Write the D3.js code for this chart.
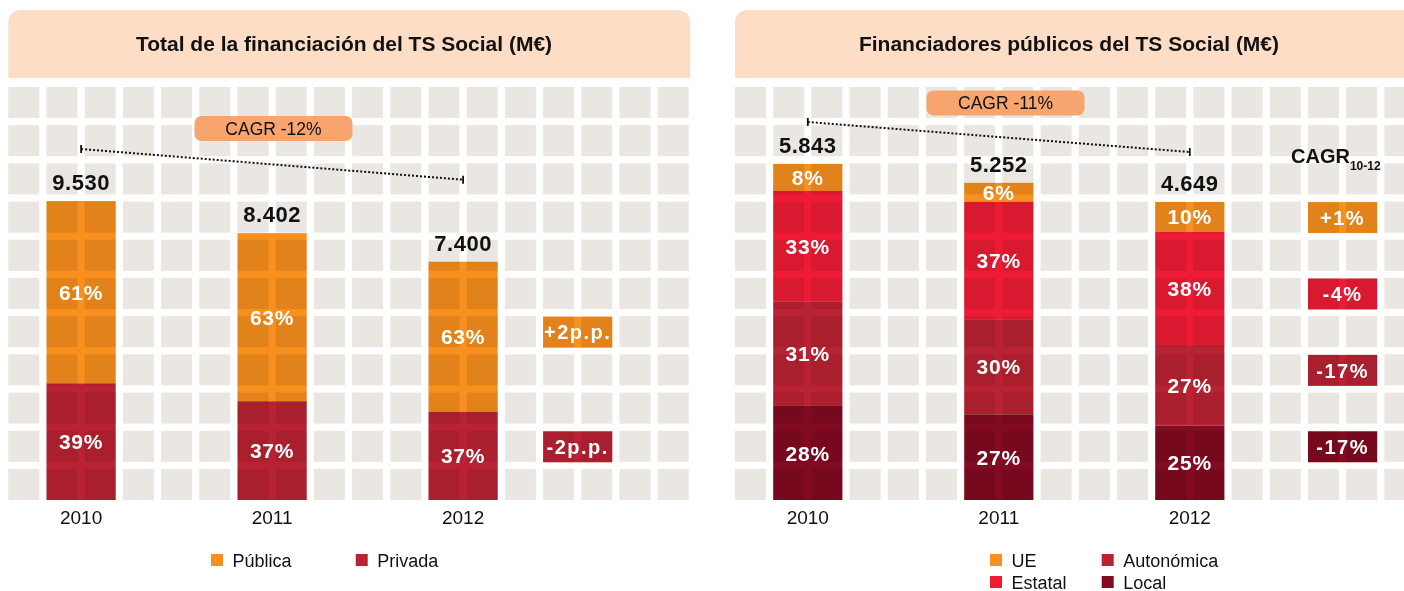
<!DOCTYPE html>
<html>
<head>
<meta charset="utf-8">
<script src="https://cdn.jsdelivr.net/npm/d3@7"></script>
<style>
  html, body { margin: 0; padding: 0; background: #fff; }
  svg { display: block; font-family: "Liberation Sans", Arial, Helvetica, sans-serif; }
  .mult { mix-blend-mode: multiply; }
</style>
</head>
<body>
<div id="chart"></div>
<script>
// ---- data ----
const years = ["2010", "2011", "2012"];

// left panel: total funding (M€) and split
const totalFunding = [9530, 8402, 7400];
const publicaShare = [61, 63, 63];
const privadaShare = [39, 37, 37];
const totalChange = ["+2p.p.", "-2p.p."];          // Pública, Privada
const totalCagr = "CAGR -12%";

// right panel: public funders (M€) and split
const publicFunding = [5843, 5252, 4649];
const ueShare = [8, 6, 10];
const estatalShare = [33, 37, 38];
const autonomicaShare = [31, 30, 27];
const localShare = [28, 27, 25];
const publicChange = ["+1%", "-4%", "-17%", "-17%"]; // UE, Estatal, Autonómica, Local
const publicCagr = "CAGR -11%";

// ---- layout ----
const W = 1404, H = 591;
const PITCH = 38.2, CELL = 31, GRID_Y = 87, ROWS = 11, COLS = 18;
const BASE = GRID_Y + (ROWS - 1) * PITCH + CELL;   // bar baseline

const colors = {
    "Pública": "#F7901E", "UE": "#F7901E",
    "Estatal": "#ED1B36",
    "Privada": "#B92233", "Autonómica": "#B92233",
    "Local": "#820A22"
};

const es = d3.formatLocale({decimal: ",", thousands: ".", grouping: [3], currency: ["", "€"]});
const fmt = es.format(",d");

const svg = d3.select("#chart").append("svg")
    .attr("width", W)
    .attr("height", H);

function topRounded(x, y, w, h, r) {
    return `M${x},${y + h}V${y + r}Q${x},${y} ${x + r},${y}H${x + w - r}Q${x + w},${y} ${x + w},${y + r}V${y + h}Z`;
}

function drawPanel(p) {
    const g = svg.append("g");

    // header box
    g.append("path")
        .attr("d", topRounded(p.x0, 10, p.boxW, 68, 14))
        .attr("fill", "#FDDDC6");
    g.append("text")
        .attr("x", p.titleX)
        .attr("y", 51)
        .attr("text-anchor", "middle")
        .attr("font-size", 21)
        .attr("font-weight", "bold")
        .attr("fill", "#111")
        .text(p.title);

    // background grid
    const col = d3.scaleLinear().domain([0, 1]).range([p.x0, p.x0 + PITCH]);
    const row = d3.scaleLinear().domain([0, 1]).range([GRID_Y, GRID_Y + PITCH]);
    const cells = d3.cross(d3.range(COLS), d3.range(ROWS));
    g.append("g").selectAll("rect")
        .data(cells)
        .enter().append("rect")
        .attr("x", d => col(d[0]))
        .attr("y", d => row(d[1]))
        .attr("width", CELL)
        .attr("height", CELL)
        .attr("fill", "#EAE6E2");

    // scales
    const x = d3.scaleOrdinal().domain(years).range(p.barCols);
    const barW = CELL * 2 + (PITCH - CELL);
    const y = d3.scaleLinear().domain([p.yFloor, d3.max(p.totals)]).range([BASE, p.yTop]);

    const table = years.map((yr, i) => {
        const r = {year: yr, total: p.totals[i]};
        p.keys.forEach((k, j) => { r[k] = p.shares[j][i]; });
        return r;
    });
    const stack = d3.stack().keys(p.keys.slice().reverse());
    const layers = stack(table);

    const inner = d => d3.scaleLinear().domain([0, 100]).range([BASE, y(d.data.total)]);

    const layer = g.selectAll(".stack")
        .data(layers)
        .enter().append("g")
        .attr("class", "stack");

    layer.selectAll("rect")
        .data(d => d.map(v => Object.assign(v, {key: d.key})))
        .enter().append("rect")
        .attr("class", "mult")
        .attr("x", d => col(x(d.data.year)))
        .attr("y", d => inner(d)(d[1]))
        .attr("height", d => inner(d)(d[0]) - inner(d)(d[1]))
        .attr("width", barW)
        .attr("fill", d => colors[d.key]);

    layer.selectAll("text")
        .data(d => d)
        .enter().append("text")
        .attr("x", d => col(x(d.data.year)) + barW / 2)
        .attr("y", d => (inner(d)(d[0]) + inner(d)(d[1])) / 2)
        .attr("dy", "0.36em")
        .attr("text-anchor", "middle")
        .attr("font-size", 21)
        .attr("font-weight", "bold")
        .attr("letter-spacing", 0.8)
        .attr("fill", "#fff")
        .text(d => (d[1] - d[0]) + "%");

    // totals on top
    g.selectAll(".total")
        .data(table)
        .enter().append("text")
        .attr("class", "total")
        .attr("x", d => col(x(d.year)) + barW / 2)
        .attr("y", d => y(d.total) - 11)
        .attr("text-anchor", "middle")
        .attr("font-size", 22)
        .attr("font-weight", "bold")
        .attr("letter-spacing", 0.5)
        .attr("fill", "#111")
        .text(d => fmt(d.total));

    // year labels
    g.selectAll(".year")
        .data(years)
        .enter().append("text")
        .attr("class", "year")
        .attr("x", d => col(x(d)) + barW / 2)
        .attr("y", 524)
        .attr("text-anchor", "middle")
        .attr("font-size", 19)
        .attr("fill", "#111")
        .text(d => d);

    // CAGR trend line
    const first = table[0], last = table[table.length - 1];
    const x1 = col(x(first.year)) + barW / 2, y1 = y(first.total) + p.lineDy[0];
    const x2 = col(x(last.year)) + barW / 2, y2 = y(last.total) + p.lineDy[1];
    g.append("line")
        .attr("x1", x1).attr("y1", y1)
        .attr("x2", x2).attr("y2", y2)
        .attr("stroke", "#111")
        .attr("stroke-width", 2)
        .attr("stroke-dasharray", "2,2");
    [[x1, y1], [x2, y2]].forEach(pt => {
        g.append("line")
            .attr("x1", pt[0]).attr("x2", pt[0])
            .attr("y1", pt[1] - 4).attr("y2", pt[1] + 4)
            .attr("stroke", "#111")
            .attr("stroke-width", 1.8);
    });

    // CAGR pill
    g.append("rect")
        .attr("x", p.pill[0] - 79)
        .attr("y", p.pill[1] - 12.5)
        .attr("width", 158)
        .attr("height", 25)
        .attr("rx", 7)
        .attr("fill", "#F8A46E");
    g.append("text")
        .attr("x", p.pill[0])
        .attr("y", p.pill[1])
        .attr("dy", "0.36em")
        .attr("text-anchor", "middle")
        .attr("font-size", 17.5)
        .attr("fill", "#111")
        .text(p.cagr);

    // change boxes
    const boxes = g.selectAll(".delta")
        .data(p.changes.map((t, i) => ({t: t, key: p.keys[i], row: p.changeRows[i]})))
        .enter().append("g")
        .attr("class", "delta");
    boxes.append("rect")
        .attr("class", "mult")
        .attr("x", col(p.changeCol))
        .attr("y", d => row(d.row) + 0.5)
        .attr("width", barW)
        .attr("height", CELL)
        .attr("fill", d => colors[d.key]);
    boxes.append("text")
        .attr("x", col(p.changeCol) + barW / 2)
        .attr("y", d => row(d.row) + 0.5 + CELL / 2)
        .attr("dy", "0.36em")
        .attr("text-anchor", "middle")
        .attr("font-size", 20)
        .attr("font-weight", "bold")
        .attr("letter-spacing", 1.5)
        .attr("fill", "#fff")
        .text(d => d.t);

    // legend
    const lg = g.selectAll(".legend")
        .data(p.legend)
        .enter().append("g")
        .attr("class", "legend")
        .attr("transform", d => `translate(${d.x},${d.y})`);
    lg.append("rect")
        .attr("width", 12)
        .attr("height", 12)
        .attr("fill", d => colors[d.key]);
    lg.append("text")
        .attr("x", 21.5)
        .attr("y", 12.5)
        .attr("font-size", 18)
        .attr("fill", "#111")
        .text(d => d.key);

    return {g, col, row};
}

drawPanel({
    x0: 8.3, boxW: 682, titleX: 344,
    title: "Total de la financiación del TS Social (M€)",
    keys: ["Pública", "Privada"],
    shares: [publicaShare, privadaShare],
    totals: totalFunding,
    yFloor: -960, yTop: 201,
    barCols: [1, 6, 11],
    lineDy: [-52, -82],
    pill: [273.5, 128.5],
    cagr: totalCagr,
    changes: totalChange, changeCol: 14, changeRows: [6, 9],
    legend: [{key: "Pública", x: 211, y: 554}, {key: "Privada", x: 355.7, y: 554}]
});

const right = drawPanel({
    x0: 735, boxW: 700, titleX: 1069,
    title: "Financiadores públicos del TS Social (M€)",
    keys: ["UE", "Estatal", "Autonómica", "Local"],
    shares: [ueShare, estatalShare, autonomicaShare, localShare],
    totals: publicFunding,
    yFloor: -4713, yTop: 164,
    barCols: [1, 6, 11],
    lineDy: [-42, -50],
    pill: [1005.5, 103],
    cagr: publicCagr,
    changes: publicChange, changeCol: 15, changeRows: [3, 5, 7, 9],
    legend: [{key: "UE", x: 990, y: 554}, {key: "Autonómica", x: 1101.7, y: 554},
             {key: "Estatal", x: 990, y: 576}, {key: "Local", x: 1101.7, y: 576}]
});

// CAGR 10-12 header over the change column
const hdr = right.g.append("text")
    .attr("x", 1291)
    .attr("y", 163)
    .attr("font-weight", "bold")
    .attr("fill", "#111");
hdr.append("tspan").attr("font-size", 20).text("CAGR");
hdr.append("tspan").attr("font-size", 12).attr("dy", 7).text("10-12");
</script>
</body>
</html>
